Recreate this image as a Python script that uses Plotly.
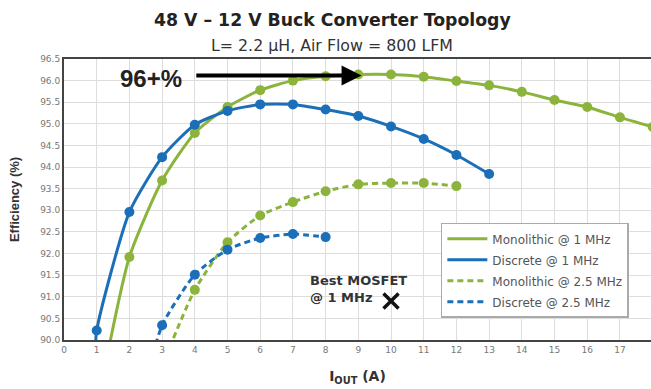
import plotly.graph_objects as go

# ---- data ----
x_mono_1mhz = [1, 2, 3, 4, 5, 6, 7, 8, 9, 10, 11, 12, 13, 14, 15, 16, 17, 18]
eff_mono_1mhz = [88.4, 91.92, 93.69, 94.79, 95.39, 95.78, 96.0, 96.1, 96.14, 96.14,
                 96.09, 95.99, 95.89, 95.74, 95.55, 95.39, 95.15, 94.93]

x_disc_1mhz = [0.95, 1, 2, 3, 4, 5, 6, 7, 8, 9, 10, 11, 12, 13]
eff_disc_1mhz = [89.5, 90.22, 92.96, 94.23, 94.98, 95.3, 95.45, 95.45, 95.33, 95.18,
                 94.94, 94.65, 94.28, 93.84]

x_mono_25mhz = [3, 4, 5, 6, 7, 8, 9, 10, 11, 12]
eff_mono_25mhz = [89.4, 91.16, 92.26, 92.88, 93.19, 93.44, 93.6, 93.63, 93.63, 93.56]

x_disc_25mhz = [2.5, 3, 4, 5, 6, 7, 8]
eff_disc_25mhz = [89.0, 90.34, 91.51, 92.09, 92.36, 92.45, 92.38]

best_mosfet_x = [10]
best_mosfet_y = [90.9]

x_ticks = list(range(0, 19))
y_ticks = [90.0, 90.5, 91.0, 91.5, 92.0, 92.5, 93.0, 93.5, 94.0, 94.5, 95.0, 95.5, 96.0, 96.5]

GREEN = "#8cb43c"
BLUE = "#1b6fb9"
FONT = "Liberation Sans, Arial, sans-serif"
WIDE = "DejaVu Sans, sans-serif"

series = [
    ("Monolithic @ 1 MHz", x_mono_1mhz, eff_mono_1mhz, GREEN, "solid"),
    ("Discrete @ 1 MHz", x_disc_1mhz, eff_disc_1mhz, BLUE, "solid"),
    ("Monolithic @ 2.5 MHz", x_mono_25mhz, eff_mono_25mhz, GREEN, "6px,4px"),
    ("Discrete @ 2.5 MHz", x_disc_25mhz, eff_disc_25mhz, BLUE, "6px,4px"),
]

fig = go.Figure()
for i, (name, xs, ys, col, dash) in enumerate(series):
    fig.add_trace(go.Scatter(
        x=xs, y=ys, mode="lines", name=name, legendgroup=f"g{i}",
        line=dict(color=col, width=3, dash=dash, shape="spline", smoothing=0.6),
    ))
for i, (name, xs, ys, col, dash) in enumerate(series):
    fig.add_trace(go.Scatter(
        x=xs, y=ys, mode="markers", showlegend=False, legendgroup=f"g{i}",
        marker=dict(color=col, size=10),
    ))

fig.add_trace(go.Scatter(
    x=best_mosfet_x, y=best_mosfet_y, mode="markers", showlegend=False,
    marker=dict(symbol="x-thin", size=15, line=dict(color="#111111", width=3.5)),
))

fig.update_layout(
    width=651, height=389,
    margin=dict(l=64, r=0, t=59, b=49, autoexpand=False),
    paper_bgcolor="white", plot_bgcolor="white",
    font=dict(family=FONT, color="#333333"),
    showlegend=True,
    legend=dict(
        x=0.642, y=0.417, xanchor="left", yanchor="top",
        bgcolor="white", bordercolor="#aaaaaa", borderwidth=1.5,
        font=dict(family=WIDE, size=12, color="#555555"),
        tracegroupgap=2, itemwidth=40,
    ),
    xaxis=dict(
        range=[0, 17.95], tickmode="array", tickvals=x_ticks,
        ticktext=[str(t) for t in x_ticks], automargin=False,
        showgrid=True, gridcolor="#dddddd", gridwidth=1,
        showline=True, linecolor="#444444", linewidth=2, mirror=True,
        ticks="", tickfont=dict(family=WIDE, size=9, color="#777777"),
        title=dict(text="<b>I<sub>OUT</sub> (A)</b>", font=dict(family=WIDE, size=14, color="#333333"), standoff=17),
        zeroline=False,
    ),
    yaxis=dict(
        range=[90.0, 96.5], tickmode="array", tickvals=y_ticks,
        ticktext=[f"{v:.1f}" for v in y_ticks], automargin=False,
        showgrid=True, gridcolor="#dddddd", gridwidth=1,
        showline=True, linecolor="#444444", linewidth=2, mirror=True,
        ticks="", tickfont=dict(family=WIDE, size=9, color="#777777"),
        title=dict(text="<b>Efficiency (%)</b>", font=dict(family=FONT, size=13, color="#333333"), standoff=18),
        zeroline=False,
    ),
    annotations=[
        dict(text="<b>48 V – 12 V Buck Converter Topology</b>", xref="paper", yref="paper",
             x=0.4566, y=1.138, xanchor="center", yanchor="middle", showarrow=False,
             font=dict(size=17.3, color="#222222", family=WIDE)),
        dict(text="L= 2.2 µH, Air Flow = 800 LFM", xref="paper", yref="paper",
             x=0.4566, y=1.047, xanchor="center", yanchor="middle", showarrow=False,
             font=dict(size=15.8, color="#333333", family=WIDE)),
        dict(text="<b>96+%</b>", xref="x", yref="y", x=2.65, y=96.05,
             xanchor="center", yanchor="middle", showarrow=False,
             font=dict(size=24, color="#222222", family=FONT)),
        dict(x=9.1, y=96.12, ax=4.0, ay=96.12, xref="x", yref="y", axref="x", ayref="y",
             text="", showarrow=True, arrowhead=2, arrowsize=1, arrowwidth=4,
             arrowcolor="#000000"),
        dict(text="<b>Best MOSFET<br>@ 1 MHz</b>", xref="x", yref="y", x=7.45, y=91.17,
             xanchor="left", yanchor="middle", align="left", showarrow=False,
             font=dict(size=13, color="#333333", family=WIDE)),
    ],
)

fig.write_html("out.html", config={"displayModeBar": False},
               post_script="document.body.style.margin='0';")
